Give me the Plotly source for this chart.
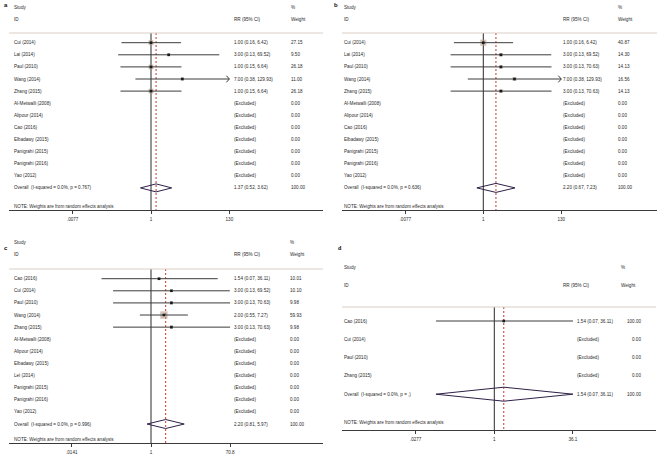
import math
import plotly.graph_objects as go

W, H = 660, 461

# ---------------- data ----------------
a_studies = ["Cui (2014)", "Lai (2014)", "Paul (2010)", "Wang (2014)", "Zhang (2015)",
             "Al-Metwalli (2008)", "Alipour (2014)", "Cao (2016)", "Elbadawy (2015)",
             "Panigrahi (2015)", "Panigrahi (2016)", "Yao (2012)"]
a_rr = [1.00, 3.00, 1.00, 7.00, 1.00]
a_lo = [0.16, 0.13, 0.15, 0.38, 0.15]
a_hi = [6.42, 69.52, 6.64, 129.93, 6.64]
a_w = [27.15, 9.50, 26.18, 11.00, 26.18]
a_overall = [1.37, 0.52, 3.62]
a_overall_label = "Overall  (I-squared = 0.0%, p = 0.767)"
a_ticks = [0.0077, 1, 130]
a_ticktext = [".0077", "1", "130"]
a_arrow = ["Wang (2014)"]

b_studies = ["Cui (2014)", "Lai (2014)", "Paul (2010)", "Wang (2014)", "Zhang (2015)",
             "Al-Metwalli (2008)", "Alipour (2014)", "Cao (2016)", "Elbadawy (2015)",
             "Panigrahi (2015)", "Panigrahi (2016)", "Yao (2012)"]
b_rr = [1.00, 3.00, 3.00, 7.00, 3.00]
b_lo = [0.16, 0.13, 0.13, 0.38, 0.13]
b_hi = [6.42, 69.52, 70.63, 129.93, 70.63]
b_w = [40.87, 14.30, 14.13, 16.56, 14.13]
b_overall = [2.20, 0.67, 7.23]
b_overall_label = "Overall  (I-squared = 0.0%, p = 0.636)"
b_ticks = [0.0077, 1, 130]
b_ticktext = [".0077", "1", "130"]
b_arrow = ["Wang (2014)"]

c_studies = ["Cao (2016)", "Cui (2014)", "Paul (2010)", "Wang (2014)", "Zhang (2015)",
             "Al-Metwalli (2008)", "Alipour (2014)", "Elbadawy (2015)", "Lei (2014)",
             "Panigrahi (2015)", "Panigrahi (2016)", "Yao (2012)"]
c_rr = [1.54, 3.00, 3.00, 2.00, 3.00]
c_lo = [0.07, 0.13, 0.13, 0.55, 0.13]
c_hi = [36.11, 69.52, 70.63, 7.27, 70.63]
c_w = [10.01, 10.10, 9.98, 59.93, 9.98]
c_overall = [2.20, 0.81, 5.97]
c_overall_label = "Overall  (I-squared = 0.0%, p = 0.996)"
c_ticks = [0.0141, 1, 70.8]
c_ticktext = [".0141", "1", "70.8"]
c_arrow = []

d_studies = ["Cao (2016)", "Cui (2014)", "Paul (2010)", "Zhang (2015)"]
d_rr = [1.54]
d_lo = [0.07]
d_hi = [36.11]
d_w = [100.00]
d_overall = [1.54, 0.07, 36.11]
d_overall_label = "Overall  (I-squared = 0.0%, p = .)"
d_ticks = [0.0277, 1, 36.1]
d_ticktext = [".0277", "1", "36.1"]
d_arrow = []

# ---------------- layout settings (pixels) ----------------
panels = [
    dict(letter="a", studies=a_studies, rr=a_rr, lo=a_lo, hi=a_hi, w=a_w, ov=a_overall,
         ovl=a_overall_label, ticks=a_ticks, tt=a_ticktext, arrow=a_arrow,
         xpx=(9, 323), x1px=151, ppd=37.07, ybot=210, ytop=0, row0=42.7, rowh=12.1,
         study_px=7, id_px=19, sep_px=33, note_px=206,
         cname=13, cci_h=233, cci=233, cw_h=290, cw=290, w_right=False,
         lab=(2, 5), labfont="Liberation Sans", box=0.95, dia=4.0),
    dict(letter="b", studies=b_studies, rr=b_rr, lo=b_lo, hi=b_hi, w=b_w, ov=b_overall,
         ovl=b_overall_label, ticks=b_ticks, tt=b_ticktext, arrow=b_arrow,
         xpx=(342, 657), x1px=483.3, ppd=36.9, ybot=210, ytop=0, row0=42.7, rowh=12.1,
         study_px=7, id_px=19, sep_px=33, note_px=206,
         cname=343, cci_h=562, cci=562, cw_h=617, cw=617, w_right=False,
         lab=(332, 5), labfont="Liberation Sans", box=0.95, dia=4.5),
    dict(letter="c", studies=c_studies, rr=c_rr, lo=c_lo, hi=c_hi, w=c_w, ov=c_overall,
         ovl=c_overall_label, ticks=c_ticks, tt=c_ticktext, arrow=c_arrow,
         xpx=(9, 323), x1px=151, ppd=42.8, ybot=443.3, ytop=232, row0=278.7, rowh=12.11,
         study_px=242, id_px=254, sep_px=269, note_px=439,
         cname=13, cci_h=233, cci=233, cw_h=289, cw=289, w_right=False,
         lab=(2, 248), labfont="Liberation Sans", box=0.95, dia=4.5),
    dict(letter="d", studies=d_studies, rr=d_rr, lo=d_lo, hi=d_hi, w=d_w, ov=d_overall,
         ovl=d_overall_label, ticks=d_ticks, tt=d_ticktext, arrow=d_arrow,
         xpx=(342, 656), x1px=494.3, ppd=50.5, ybot=430, ytop=232, row0=321, rowh=18.3,
         study_px=267, id_px=285, sep_px=307, note_px=422,
         cname=343, cci_h=562, cci=576, cw_h=620, cw=642, w_right=True,
         lab=(336, 248), labfont="Liberation Serif", box=0.0, dia=7.0),
]

FONT = "Liberation Sans, Arial, sans-serif"
FS = 4.6
TXT = "#2a2a2a"
CI_COL = "#3c3c3c"
BOX_COL = "#b59d8c"
DIA_COL = "#2f2148"
RED = "#c0392b"
AX_COL = "#3a3a3a"
SEP_COL = "#dacfc6"

fig = go.Figure()
annotations = []
shapes = []
layout_axes = {}

for k, p in enumerate(panels):
    n = k + 1
    xa = "x" if n == 1 else f"x{n}"
    ya = "y" if n == 1 else f"y{n}"
    xkey = "xaxis" if n == 1 else f"xaxis{n}"
    ykey = "yaxis" if n == 1 else f"yaxis{n}"

    def prow(px, p=p):
        return (px - p["row0"]) / p["rowh"]

    x0r = (p["xpx"][0] - p["x1px"]) / p["ppd"]
    x1r = (p["xpx"][1] - p["x1px"]) / p["ppd"]
    ybot_r = prow(p["ybot"])
    ytop_r = prow(p["ytop"])

    layout_axes[xkey] = dict(
        type="log", domain=[p["xpx"][0] / W, p["xpx"][1] / W], range=[x0r, x1r],
        anchor=ya, showgrid=False, zeroline=False, showline=True, linecolor=AX_COL,
        linewidth=1, ticks="outside", ticklen=3, tickwidth=1, tickcolor=AX_COL,
        tickvals=p["ticks"], ticktext=p["tt"], tickfont=dict(size=FS, family=FONT, color=TXT),
        ticklabelstandoff=1, fixedrange=True,
    )
    layout_axes[ykey] = dict(
        domain=[1 - p["ybot"] / H, 1 - p["ytop"] / H], range=[ybot_r, ytop_r],
        anchor=xa, visible=False, fixedrange=True,
    )

    nst = len(p["studies"])
    ov_row = nst
    sep_r = prow(p["sep_px"])
    xmax_tick = p["ticks"][-1]

    # separator line
    shapes.append(dict(type="line", xref=f"{xa} domain", yref=ya, x0=0, x1=1,
                       y0=sep_r, y1=sep_r, line=dict(color=SEP_COL, width=1)))

    # null line and overall dashed line
    fig.add_trace(go.Scatter(x=[1, 1], y=[sep_r, ybot_r], mode="lines", xaxis=xa, yaxis=ya,
                             line=dict(color="#2a2a2a", width=1), hoverinfo="skip"))
    fig.add_trace(go.Scatter(x=[p["ov"][0]] * 2, y=[sep_r, ybot_r], mode="lines", xaxis=xa,
                             yaxis=ya, line=dict(color=RED, width=1, dash="2px,2px"),
                             hoverinfo="skip"))

    # CIs
    cx, cy = [], []
    arx, ary = [], []
    m = len(p["rr"])
    for i in range(m):
        name = p["studies"][i]
        hi = p["hi"][i]
        if name in p["arrow"]:
            hi = min(hi, xmax_tick)
            f = 10 ** (3.0 / p["ppd"])
            ah = 3.3 / p["rowh"]
            arx += [hi / f, hi, hi / f, None]
            ary += [i - ah, i, i + ah, None]
        cx += [p["lo"][i], hi, None]
        cy += [i, i, None]
    # weight boxes (under the lines)
    if p["box"] > 0:
        fig.add_trace(go.Scatter(x=p["rr"], y=list(range(m)), mode="markers", xaxis=xa,
                                 yaxis=ya, marker=dict(symbol="square", color=BOX_COL,
                                 size=[p["box"] * math.sqrt(w) for w in p["w"]],
                                 line=dict(width=0)), opacity=0.85, hoverinfo="skip"))
    fig.add_trace(go.Scatter(x=cx, y=cy, mode="lines", xaxis=xa, yaxis=ya,
                             line=dict(color=CI_COL, width=1), hoverinfo="skip"))
    if arx:
        fig.add_trace(go.Scatter(x=arx, y=ary, mode="lines", xaxis=xa, yaxis=ya,
                                 line=dict(color=CI_COL, width=1), hoverinfo="skip"))
    # point estimates
    fig.add_trace(go.Scatter(x=p["rr"], y=list(range(m)), mode="markers", xaxis=xa, yaxis=ya,
                             marker=dict(symbol="square", color="#1a1a1a", size=2.6,
                                         line=dict(width=0)), hoverinfo="skip"))
    # diamond
    rr, lo, hi = p["ov"]
    dh = p["dia"] / p["rowh"]
    fig.add_trace(go.Scatter(x=[lo, rr, hi, rr, lo], y=[ov_row, ov_row - dh, ov_row, ov_row + dh, ov_row],
                             mode="lines", xaxis=xa, yaxis=ya,
                             line=dict(color=DIA_COL, width=1), hoverinfo="skip"))

    def txt(x_px, yrow, text, anchor="left", p=p, ya=ya):
        annotations.append(dict(x=x_px / W, xref="paper", y=yrow, yref=ya, text=text,
                                showarrow=False, xanchor=anchor, yanchor="middle",
                                font=dict(size=FS, family=FONT, color=TXT), borderpad=0))

    # headers
    txt(p["cname"], prow(p["study_px"]), "Study")
    txt(p["cname"], prow(p["id_px"]), "ID")
    txt(p["cci_h"], prow(p["id_px"]), "RR (95% CI)")
    txt(p["cw_h"], prow(p["study_px"]), "%")
    txt(p["cw_h"], prow(p["id_px"]), "Weight")

    # rows
    wanc = "right" if p["w_right"] else "left"
    for i, name in enumerate(p["studies"]):
        txt(p["cname"], i, name)
        if i < m:
            txt(p["cci"], i, f"{p['rr'][i]:.2f} ({p['lo'][i]:.2f}, {p['hi'][i]:.2f})")
            txt(p["cw"], i, f"{p['w'][i]:.2f}", anchor=wanc)
        else:
            txt(p["cci"], i, "(Excluded)")
            txt(p["cw"], i, "0.00", anchor=wanc)
    txt(p["cname"], ov_row, p["ovl"])
    txt(p["cci"], ov_row, f"{rr:.2f} ({lo:.2f}, {hi:.2f})")
    txt(p["cw"], ov_row, "100.00", anchor=wanc)
    txt(p["cname"], prow(p["note_px"]), "NOTE: Weights are from random effects analysis")

    # panel letter
    annotations.append(dict(x=p["lab"][0] / W, y=1 - p["lab"][1] / H, xref="paper", yref="paper",
                            text=f"<b>{p['letter']}</b>", showarrow=False, xanchor="left",
                            yanchor="middle",
                            font=dict(size=6, family=p["labfont"], color="#111")))

fig.update_layout(
    width=W, height=H, autosize=False,
    margin=dict(l=0, r=0, t=0, b=0),
    paper_bgcolor="white", plot_bgcolor="white",
    showlegend=False, hovermode=False,
    annotations=annotations, shapes=shapes,
    **layout_axes,
)

fig.write_html("out.html", config={"displayModeBar": False, "staticPlot": True},
               post_script="document.body.style.margin='0px';")
